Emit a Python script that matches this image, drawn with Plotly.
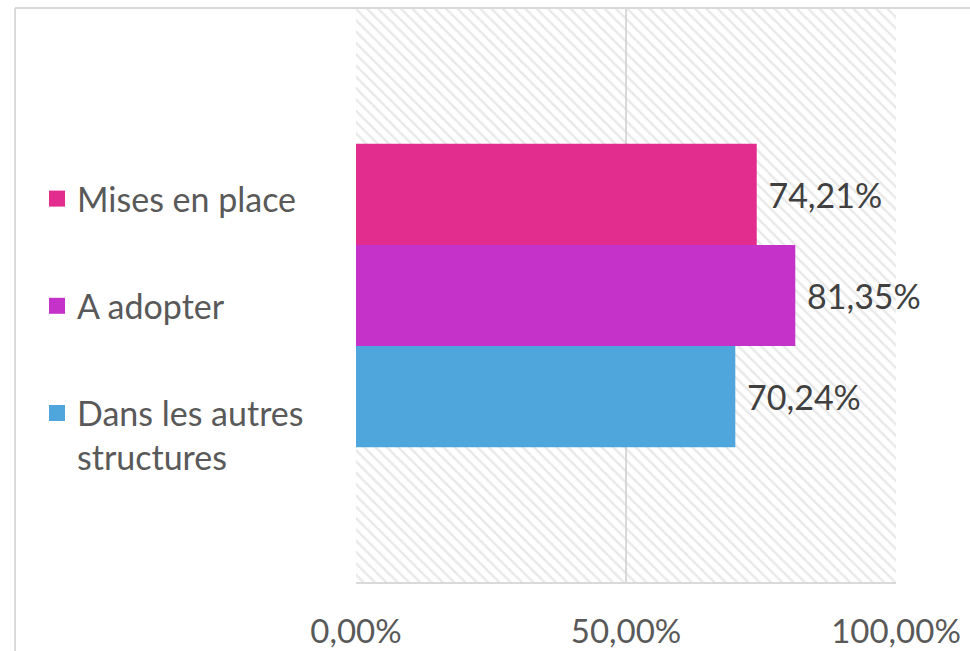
import plotly.graph_objects as go

# ---- data ----
series_names = ["Mises en place", "A adopter", "Dans les autres<br>structures"]
series_values = [74.21, 81.35, 70.24]
series_colors = ["#E32D8E", "#C432C9", "#4EA6DC"]
tick_values = [0, 50, 100]
axis_max = 100

# ---- layout constants (pixels) ----
W, H = 970, 651
L, R, T, B = 356, 74, 9, 69
PW, PH = W - L - R, H - T - B
FONT = "Lato"
GRID = "#d9d9d9"


def px_x(p):
    return (p - L) / PW


def px_y(p):
    return (H - B - p) / PH


def fmt_pct(v):
    return f"{v:.2f}".replace(".", ",") + "%"


fig = go.Figure()

# hatched plot-area background (on the main subplot, below the data bars)
fig.add_trace(go.Bar(
    x=[axis_max], y=[0], base=0, width=1, orientation="h",
    xaxis="x", yaxis="y", showlegend=False, hoverinfo="skip",
    marker=dict(color="rgba(0,0,0,0)", line=dict(width=0),
                pattern=dict(shape="\\", fgcolor="#d2d2d2",
                             bgcolor="rgba(0,0,0,0)", size=8, solidity=0.3)),
))

# data bars: plotted bottom-to-top, so reverse the series order
for name, val, col in list(zip(series_names, series_values, series_colors))[::-1]:
    fig.add_trace(go.Bar(
        x=[val], y=[0], orientation="h", name=name,
        xaxis="x", yaxis="y2", showlegend=False,
        marker=dict(color=col, line=dict(width=0)),
        text=["\u00a0" + fmt_pct(val)], textposition="outside",
        cliponaxis=False, constraintext="none",
        textfont=dict(family=FONT, size=34, color="#404040"),
    ))

# legend proxies (larger square symbols), top-to-bottom order
for i, (name, col) in enumerate(zip(series_names, series_colors)):
    fig.add_trace(go.Scatter(
        x=[None], y=[None], mode="markers", name=name,
        legendgroup=f"g{i}", xaxis="x", yaxis="y2",
        marker=dict(symbol="square", size=16, color=col),
    ))

# frame lines of the (cropped) chart area
shapes = [
    dict(type="line", xref="paper", yref="paper",
         x0=px_x(15), x1=px_x(W), y0=px_y(8), y1=px_y(8),
         line=dict(color=GRID, width=2)),
    dict(type="line", xref="paper", yref="paper",
         x0=px_x(15), x1=px_x(15), y0=px_y(8), y1=px_y(H),
         line=dict(color=GRID, width=2)),
]

fig.update_layout(
    width=W, height=H,
    margin=dict(l=L, r=R, t=T, b=B, autoexpand=False),
    paper_bgcolor="white", plot_bgcolor="white",
    barmode="group", bargap=0.47, bargroupgap=0,
    font=dict(family=FONT, color="#595959"),
    showlegend=True,
    legend=dict(
        x=px_x(37), xanchor="left", y=px_y(170), yanchor="top",
        traceorder="grouped", tracegroupgap=60, valign="top",
        font=dict(family=FONT, size=34, color="#595959"),
        bgcolor="rgba(0,0,0,0)", itemclick=False,
    ),
    xaxis=dict(
        range=[0, axis_max], tickvals=tick_values,
        ticktext=[fmt_pct(v) for v in tick_values],
        showgrid=True, gridcolor=GRID, gridwidth=2, zeroline=False,
        showline=True, linecolor=GRID, linewidth=2,
        ticks="outside", ticklen=19, tickcolor="rgba(0,0,0,0)",
        tickfont=dict(family=FONT, size=33, color="#595959"),
        automargin=False, fixedrange=True,
    ),
    yaxis=dict(range=[-0.5, 0.5], visible=False, fixedrange=True,
               automargin=False),
    yaxis2=dict(range=[-0.5, 0.5], visible=False, overlaying="y",
                fixedrange=True, automargin=False),
    shapes=shapes,
)

fig.write_html("out.html",
               config={"displayModeBar": False},
               post_script="document.body.style.margin='0';"
                           "document.body.style.overflow='hidden';")
